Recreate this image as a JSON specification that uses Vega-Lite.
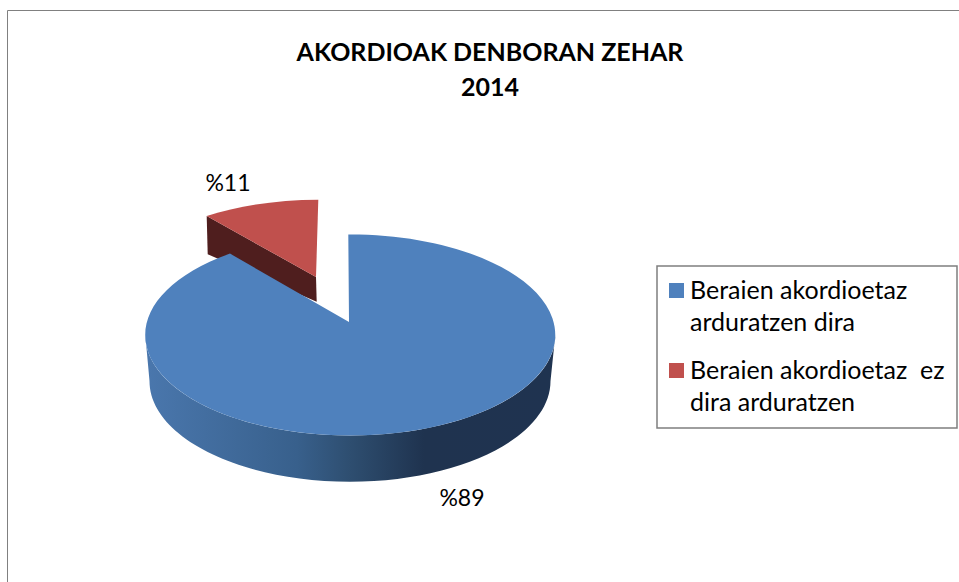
{
"$schema":"https://vega.github.io/schema/vega-lite/v6.json",
"width":952,"height":572,
"autosize":{"type":"none"},
"padding":{"left":7,"top":10,"right":0,"bottom":0},
"background":"white",
"config":{"legend":{"strokeWidth":1.5},"style":{"guide-label":{"lineHeight":32}}},
"view":{"stroke":"#808080","strokeWidth":1,"fill":"white"},
"title":{"text":["AKORDIOAK DENBORAN ZEHAR","2014"],"font":"Lato","fontWeight":"bold","fontSize":25,"lineHeight":35,"color":"#000000","anchor":"middle","frame":"group","baseline":"middle","dx":7,"dy":107},
"data":{"values":[
{"category":"Beraien akordioetaz arduratzen dira","value":89,"label":"%89"},
{"category":"Beraien akordioetaz  ez dira arduratzen","value":11,"label":"%11"}
]},
"layer":[
{"transform":[{"filter":"datum.value == 11"}],
 "mark":{"type":"point","filled":true,"opacity":1,"size":4,"fill":"#4f1e1e","stroke":null},
 "encoding":{
 "x":{"field":"category","type":"nominal","axis":null,"scale":{"type":"point","padding":0,"domain":["Beraien akordioetaz arduratzen dira","Beraien akordioetaz  ez dira arduratzen"],"range":[343,311]}},
 "y":{"field":"category","type":"nominal","axis":null,"scale":{"type":"point","padding":0,"domain":["Beraien akordioetaz arduratzen dira","Beraien akordioetaz  ez dira arduratzen"],"range":[325,240]}},
 "shape":{"value":"M-111.3,-34 L-2,27 L-1.3,51.7 L-110.3,4.3 Z"}}},
{"transform":[{"filter":"datum.value == 89"}],
 "mark":{"type":"point","filled":true,"opacity":1,"size":4,"stroke":null,"fill":{"gradient":"linear","x1":0,"y1":0,"x2":1,"y2":0,"stops":[{"offset":0,"color":"#4a77ad"},{"offset":0.37,"color":"#38608c"},{"offset":0.5,"color":"#2e4e70"},{"offset":0.68,"color":"#1f334f"},{"offset":1,"color":"#1f3350"}]}},
 "encoding":{
 "x":{"field":"category","type":"nominal","axis":null,"scale":{"type":"point","padding":0,"domain":["Beraien akordioetaz arduratzen dira","Beraien akordioetaz  ez dira arduratzen"],"range":[343,311]}},
 "y":{"field":"category","type":"nominal","axis":null,"scale":{"type":"point","padding":0,"domain":["Beraien akordioetaz arduratzen dira","Beraien akordioetaz  ez dira arduratzen"],"range":[325,240]}},
 "shape":{"value":"M-204.7,0 A205,100.5 0 0 0 205.3,0 L200.5,46 A200.5,100.7 0 0 1 -200.5,46 Z"}}},
{"mark":{"type":"point","filled":true,"opacity":1,"size":4,"stroke":null},
 "encoding":{
 "x":{"field":"category","type":"nominal","axis":null,"scale":{"type":"point","padding":0,"domain":["Beraien akordioetaz arduratzen dira","Beraien akordioetaz  ez dira arduratzen"],"range":[343,311]}},
 "y":{"field":"category","type":"nominal","axis":null,"scale":{"type":"point","padding":0,"domain":["Beraien akordioetaz arduratzen dira","Beraien akordioetaz  ez dira arduratzen"],"range":[325,240]}},
 "shape":{"field":"category","type":"nominal","legend":null,"scale":{"domain":["Beraien akordioetaz arduratzen dira","Beraien akordioetaz  ez dira arduratzen"],"range":["M-1,-13 L-1.7,-100.5 A205,100.5 0 1 1 -120,-81.4 Z","M-2,27 L-111.3,-34 A205,100.5 0 0 1 0.3,-50.3 Z"]}},
 "color":{"field":"category","type":"nominal","scale":{"domain":["Beraien akordioetaz arduratzen dira","Beraien akordioetaz  ez dira arduratzen"],"range":["#4f81bd","#c0504d"]},
 "legend":{"title":null,"orient":"none","legendX":650,"legendY":256,"fillColor":"white","strokeColor":"#7f7f7f","padding":12,"symbolType":"square","symbolSize":225,"symbolStrokeWidth":0,"symbolOffset":-5,"labelFont":"Lato","labelFontSize":25,"labelColor":"#000000","labelLimit":320,"labelOffset":1,"rowPadding":22,
 "labelExpr":"datum.value == 'Beraien akordioetaz arduratzen dira' ? ['Beraien akordioetaz','arduratzen dira'] : ['Beraien akordioetaz \u00a0ez','dira arduratzen']"}}}},
{"mark":{"type":"text","font":"Lato","fontSize":23,"color":"#000000","align":"center","baseline":"middle"},
 "encoding":{
 "text":{"field":"label"},
 "x":{"field":"category","type":"nominal","axis":null,"scale":{"type":"point","padding":0,"domain":["Beraien akordioetaz arduratzen dira","Beraien akordioetaz  ez dira arduratzen"],"range":[455,221]}},
 "y":{"field":"category","type":"nominal","axis":null,"scale":{"type":"point","padding":0,"domain":["Beraien akordioetaz arduratzen dira","Beraien akordioetaz  ez dira arduratzen"],"range":[489,174]}}}}
],
"resolve":{"scale":{"x":"independent","y":"independent","shape":"independent"}}
}
